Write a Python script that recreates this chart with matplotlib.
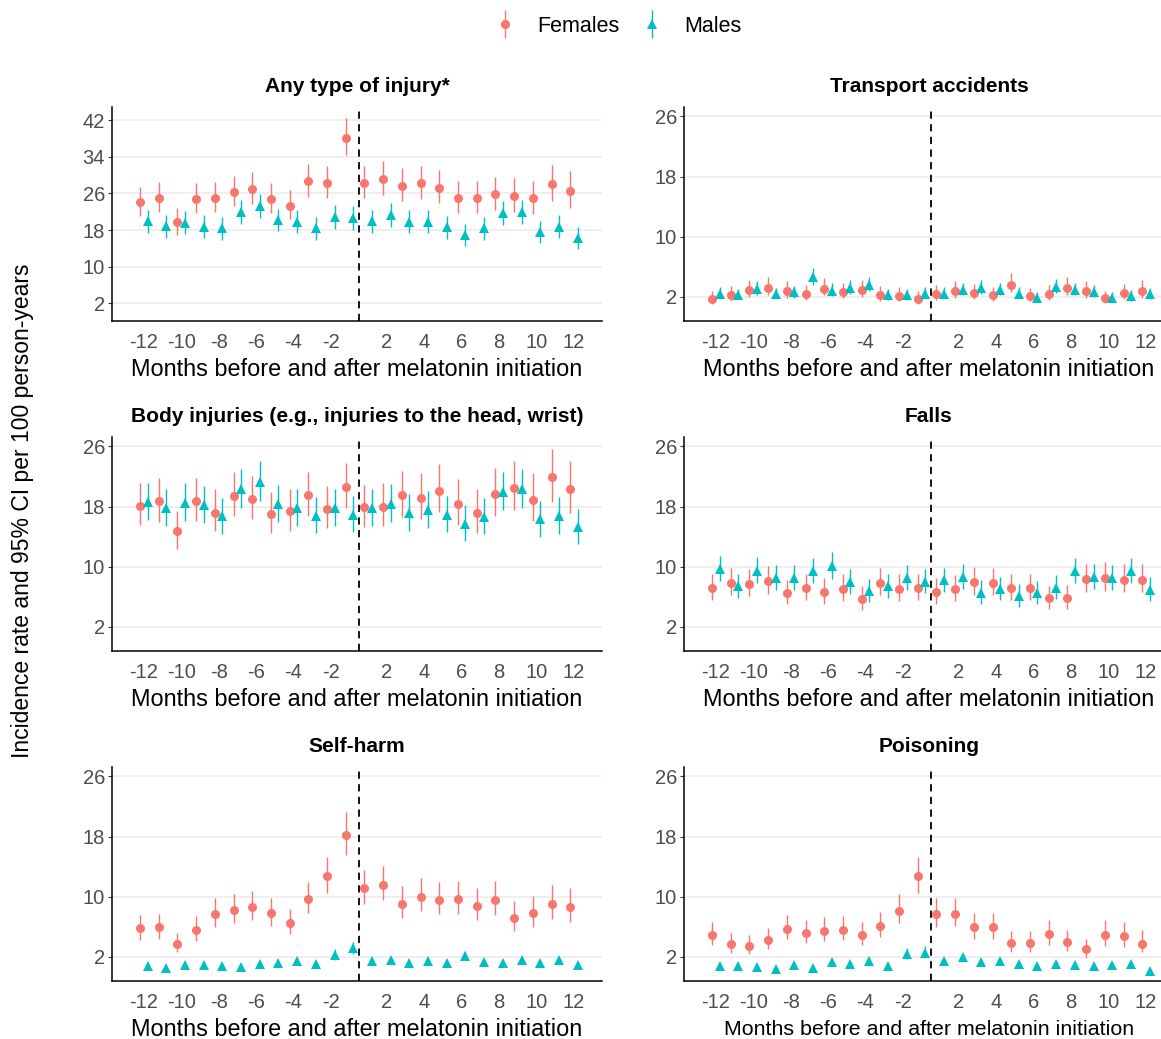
import numpy as np
import matplotlib
matplotlib.use("Agg")
import matplotlib.pyplot as plt
from matplotlib.container import ErrorbarContainer
from matplotlib.legend_handler import HandlerErrorbar

plt.rcParams["font.family"] = ["Liberation Sans", "DejaVu Sans"]

# =========================
# data
# =========================
MONTHS = [-12, -11, -10, -9, -8, -7, -6, -5, -4, -3, -2, -1,
          1, 2, 3, 4, 5, 6, 7, 8, 9, 10, 11, 12]
TICK_MONTHS = [-12, -10, -8, -6, -4, -2, 2, 4, 6, 8, 10, 12]

TITLES = ["Any type of injury*", "Transport accidents",
          "Body injuries (e.g., injuries to the head, wrist)", "Falls",
          "Self-harm", "Poisoning"]

# any type of injury
any_f = [24.1, 25.0, 19.7, 24.7, 25.0, 26.3, 26.9, 24.7, 23.3, 28.7, 28.2, 38.2,
         28.2, 29.1, 27.7, 28.2, 27.2, 25.0, 25.0, 25.8, 25.5, 25.0, 28.0, 26.5]
any_f_lo = [21.0, 21.9, 16.8, 21.7, 22.0, 23.3, 23.7, 21.7, 20.3, 25.3, 24.9, 34.3,
            24.9, 25.7, 24.4, 24.7, 23.9, 21.7, 21.7, 22.3, 22.0, 21.5, 24.3, 22.8]
any_f_hi = [27.5, 28.5, 22.8, 28.2, 28.5, 29.9, 30.6, 28.2, 26.8, 32.5, 31.9, 42.6,
            31.9, 33.0, 31.5, 32.0, 31.2, 28.7, 28.8, 29.7, 29.3, 28.8, 32.3, 30.8]
any_m = [19.9, 18.8, 19.6, 18.7, 18.4, 22.0, 23.3, 20.2, 19.8, 18.4, 20.8, 20.6,
         19.9, 21.2, 19.8, 19.8, 18.6, 16.9, 18.4, 21.7, 21.9, 17.6, 18.7, 16.3]
any_m_lo = [17.4, 16.3, 17.1, 16.2, 15.9, 19.4, 20.7, 17.7, 17.3, 15.9, 18.2, 18.0,
            17.4, 18.6, 17.3, 17.3, 16.1, 14.5, 15.9, 19.1, 19.3, 15.2, 16.2, 13.9]
any_m_hi = [22.4, 21.3, 22.1, 21.2, 20.9, 24.6, 25.9, 22.7, 22.3, 20.9, 23.4, 23.2,
            22.4, 23.8, 22.3, 22.3, 21.1, 19.3, 20.9, 24.3, 24.5, 20.0, 21.2, 18.7]

# transport accidents
tra_f = [1.7, 2.3, 2.9, 3.2, 2.8, 2.4, 3.1, 2.6, 2.9, 2.3, 2.1, 1.7,
         2.4, 2.8, 2.5, 2.2, 3.65, 2.1, 2.45, 3.2, 2.8, 1.8, 2.5, 2.8]
tra_f_lo = [1.1, 1.5, 2.0, 2.3, 1.9, 1.6, 2.2, 1.8, 2.0, 1.5, 1.4, 1.1,
            1.6, 1.9, 1.7, 1.4, 2.6, 1.4, 1.6, 2.3, 1.9, 1.2, 1.7, 1.9]
tra_f_hi = [2.8, 3.4, 4.3, 4.6, 4.1, 3.6, 4.5, 3.8, 4.3, 3.5, 3.3, 2.8,
            3.6, 4.1, 3.7, 3.3, 5.2, 3.2, 3.6, 4.6, 4.1, 2.8, 3.7, 4.2]
tra_m = [2.45, 2.3, 3.1, 2.4, 2.6, 4.6, 2.85, 3.2, 3.65, 2.2, 2.2, 2.45,
         2.45, 2.9, 3.25, 2.95, 2.45, 1.9, 3.35, 2.9, 2.7, 1.9, 2.1, 2.35]
tra_m_lo = [1.8, 1.7, 2.3, 1.8, 1.9, 3.6, 2.1, 2.4, 2.8, 1.6, 1.6, 1.8,
            1.8, 2.2, 2.4, 2.2, 1.8, 1.3, 2.5, 2.2, 2.0, 1.3, 1.5, 1.7]
tra_m_hi = [3.3, 3.1, 4.1, 3.2, 3.4, 5.8, 3.8, 4.2, 4.7, 3.0, 3.0, 3.3,
            3.3, 3.8, 4.2, 3.9, 3.3, 2.6, 4.4, 3.8, 3.6, 2.6, 2.9, 3.2]

# body injuries
bod_f = [18.1, 18.7, 14.7, 18.7, 17.2, 19.4, 19.0, 17.0, 17.4, 19.5, 17.7, 20.6,
         17.9, 18.0, 19.5, 19.2, 20.1, 18.4, 17.1, 19.7, 20.5, 18.9, 21.9, 20.3]
bod_f_lo = [15.5, 15.9, 12.3, 16.1, 14.7, 16.7, 16.3, 14.5, 14.8, 16.7, 15.2, 17.8,
            15.3, 15.4, 16.6, 16.4, 17.3, 15.6, 14.5, 16.75, 17.5, 16.1, 18.6, 17.2]
bod_f_hi = [21.1, 21.75, 17.4, 21.8, 20.3, 22.6, 22.1, 20.0, 20.4, 22.6, 20.7, 23.8,
            20.9, 21.2, 22.7, 22.5, 23.6, 21.6, 20.3, 23.1, 24.1, 22.4, 25.7, 24.0]
bod_m = [18.6, 17.8, 18.5, 18.2, 16.7, 20.3, 21.3, 18.3, 17.8, 16.8, 17.8, 16.9,
         17.8, 18.4, 17.1, 17.5, 16.9, 15.7, 16.6, 20.0, 20.3, 16.3, 16.75, 15.3]
bod_m_lo = [16.2, 15.4, 16.1, 15.8, 14.4, 17.8, 18.8, 15.9, 15.4, 14.5, 15.4, 14.6,
            15.4, 16.0, 14.8, 15.1, 14.6, 13.4, 14.3, 17.5, 17.8, 14.0, 14.4, 13.0]
bod_m_hi = [21.2, 20.4, 21.1, 20.8, 19.2, 23.0, 24.0, 20.9, 20.4, 19.3, 20.4, 19.4,
            20.4, 21.0, 19.7, 20.1, 19.4, 18.2, 19.1, 22.6, 23.0, 18.8, 19.3, 17.7]

# falls
fal_f = [7.2, 7.8, 7.7, 8.1, 6.5, 7.2, 6.6, 7.1, 5.7, 7.9, 7.1, 7.15,
         6.6, 7.0, 7.95, 7.8, 7.2, 7.2, 5.8, 5.85, 8.35, 8.5, 8.3, 8.3]
fal_f_lo = [5.6, 6.2, 6.1, 6.4, 5.0, 5.6, 5.1, 5.5, 4.3, 6.2, 5.5, 5.6,
            5.1, 5.4, 6.3, 6.2, 5.6, 5.6, 4.4, 4.4, 6.6, 6.8, 6.6, 6.6]
fal_f_hi = [9.1, 9.8, 9.7, 10.1, 8.3, 9.1, 8.5, 9.0, 7.4, 9.9, 9.0, 9.1,
            8.5, 8.9, 10.0, 9.8, 9.1, 9.1, 7.5, 7.6, 10.4, 10.6, 10.3, 10.3]
fal_m = [9.7, 7.4, 9.5, 8.5, 8.5, 9.4, 10.1, 7.95, 6.75, 7.4, 8.45, 8.0,
         8.2, 8.65, 6.55, 7.05, 6.1, 6.45, 7.2, 9.4, 8.65, 8.45, 9.4, 6.9]
fal_m_lo = [8.1, 5.9, 7.9, 6.9, 6.9, 7.8, 8.4, 6.4, 5.3, 5.9, 6.9, 6.5,
            6.6, 7.1, 5.1, 5.6, 4.7, 5.0, 5.7, 7.8, 7.1, 6.9, 7.8, 5.4]
fal_m_hi = [11.4, 9.1, 11.3, 10.2, 10.2, 11.2, 11.9, 9.7, 8.4, 9.1, 10.2, 9.7,
            9.9, 10.4, 8.2, 8.7, 7.7, 8.1, 8.9, 11.2, 10.4, 10.2, 11.2, 8.6]

# self-harm
sel_f = [5.8, 5.95, 3.7, 5.6, 7.7, 8.3, 8.6, 7.8, 6.5, 9.7, 12.7, 18.2,
         11.1, 11.6, 9.0, 10.0, 9.6, 9.7, 8.8, 9.6, 7.15, 7.8, 9.0, 8.7]
sel_f_lo = [4.3, 4.4, 2.7, 4.1, 6.0, 6.5, 6.9, 6.1, 5.0, 7.8, 10.5, 15.6,
            9.0, 9.55, 7.2, 8.1, 7.7, 7.7, 6.9, 7.6, 5.5, 6.0, 7.0, 6.7]
sel_f_hi = [7.6, 7.7, 5.2, 7.4, 9.8, 10.4, 10.8, 9.8, 8.35, 11.9, 15.3, 21.3,
            13.5, 14.1, 11.4, 12.45, 12.0, 12.1, 11.2, 12.1, 9.4, 10.1, 11.5, 11.2]
sel_m = [0.78, 0.56, 0.96, 0.9, 0.73, 0.65, 1.1, 1.2, 1.45, 1.0, 2.25, 3.15,
         1.5, 1.55, 1.25, 1.45, 1.2, 2.1, 1.3, 1.25, 1.55, 1.25, 1.6, 0.9]
sel_m_lo = [0.5, 0.35, 0.65, 0.6, 0.45, 0.4, 0.8, 0.9, 1.1, 0.7, 1.6, 2.35,
            1.15, 1.2, 0.9, 1.1, 0.9, 1.6, 1.0, 0.95, 1.2, 0.95, 1.25, 0.6]
sel_m_hi = [1.15, 0.9, 1.35, 1.25, 1.05, 1.0, 1.5, 1.6, 1.85, 1.4, 3.0, 4.0,
            1.95, 2.0, 1.65, 1.85, 1.6, 2.75, 1.7, 1.65, 2.0, 1.65, 2.05, 1.25]

# poisoning
poi_f = [4.9, 3.7, 3.5, 4.3, 5.7, 5.15, 5.5, 5.6, 4.9, 6.1, 8.1, 12.75,
         7.7, 7.75, 5.95, 6.0, 3.8, 3.8, 5.0, 3.95, 3.0, 4.9, 4.8, 3.7]
poi_f_lo = [3.6, 2.5, 2.35, 3.1, 4.35, 3.9, 4.1, 4.2, 3.6, 4.7, 6.45, 10.5,
            6.0, 6.1, 4.4, 4.4, 2.7, 2.6, 3.55, 2.75, 1.9, 3.5, 3.3, 2.6]
poi_f_hi = [6.6, 5.2, 4.9, 5.9, 7.6, 6.9, 7.3, 7.45, 6.7, 8.0, 10.3, 15.3,
            9.8, 9.9, 7.8, 7.9, 5.4, 5.4, 6.85, 5.6, 4.4, 6.85, 6.7, 5.6]
poi_m = [0.76, 0.76, 0.65, 0.4, 0.9, 0.5, 1.3, 1.0, 1.4, 0.8, 2.4, 2.55,
         1.5, 1.95, 1.35, 1.5, 1.0, 0.75, 1.05, 0.95, 0.75, 0.9, 1.1, 0.15]
poi_m_lo = [0.5, 0.5, 0.4, 0.2, 0.6, 0.3, 0.95, 0.7, 1.05, 0.55, 1.7, 1.8,
            1.15, 1.5, 1.0, 1.15, 0.7, 0.5, 0.75, 0.65, 0.5, 0.6, 0.8, 0.05]
poi_m_hi = [1.1, 1.1, 0.95, 0.65, 1.25, 0.8, 1.7, 1.35, 1.8, 1.15, 3.15, 3.45,
            1.9, 2.45, 1.75, 1.9, 1.35, 1.05, 1.4, 1.3, 1.05, 1.25, 1.45, 0.35]

PANELS = [
    (any_f, any_f_lo, any_f_hi, any_m, any_m_lo, any_m_hi),
    (tra_f, tra_f_lo, tra_f_hi, tra_m, tra_m_lo, tra_m_hi),
    (bod_f, bod_f_lo, bod_f_hi, bod_m, bod_m_lo, bod_m_hi),
    (fal_f, fal_f_lo, fal_f_hi, fal_m, fal_m_lo, fal_m_hi),
    (sel_f, sel_f_lo, sel_f_hi, sel_m, sel_m_lo, sel_m_hi),
    (poi_f, poi_f_lo, poi_f_hi, poi_m, poi_m_lo, poi_m_hi),
]

# =========================
# style
# =========================
C_F = "#F8766D"
C_M = "#00BFC4"
GREY_TXT = "#4D4D4D"
W, H = 1161, 1039
DODGE = 0.2


def month_pos(m):
    # months are equally spaced categories, month 0 missing -> gap closed
    m = np.asarray(m, dtype=float)
    return np.where(m < 0, m + 0.5, m - 0.5)


def px_axes(fig, left, top, right, bottom):
    return fig.add_axes([left / W, 1 - bottom / H, (right - left) / W, (bottom - top) / H])


fig = plt.figure(figsize=(W / 100, H / 100), dpi=100)

# right column was cut off at the image edge in the original
cols = [(112, 602), (684, 1174)]
rows = [(107, 321), (437, 651), (767, 981)]

x = month_pos(MONTHS)
handles = None
for i, (f, flo, fhi, m, mlo, mhi) in enumerate(PANELS):
    r, c = divmod(i, 2)
    ax = px_axes(fig, cols[c][0], rows[r][0], cols[c][1], rows[r][1])

    f, flo, fhi = np.array(f), np.array(flo), np.array(fhi)
    m, mlo, mhi = np.array(m), np.array(mlo), np.array(mhi)

    hf = ax.errorbar(x - DODGE, f, yerr=[f - flo, fhi - f], fmt="o", color=C_F,
                     ms=6.5, elinewidth=1.0, capsize=0, mew=0, zorder=3, label="Females")
    hm = ax.errorbar(x + DODGE, m, yerr=[m - mlo, mhi - m], fmt="^", color=C_M,
                     ms=7.5, elinewidth=1.0, capsize=0, mew=0, zorder=3, label="Males")
    handles = [hf, hm]

    ax.axvline(0, color="black", lw=1.3, ls=(0, (4, 3)), zorder=4)

    if i == 0:
        ax.set_ylim(-1.9, 44.9)
        ax.set_yticks([2, 10, 18, 26, 34, 42])
    else:
        ax.set_ylim(-1.2, 27.25)
        ax.set_yticks([2, 10, 18, 26])
    ax.set_xlim(-13.2, 13.0)
    ax.set_xticks(month_pos(TICK_MONTHS))
    ax.set_xticklabels([str(t) for t in TICK_MONTHS])

    ax.grid(axis="y", color="#EBEBEB", lw=1.1, zorder=0)
    ax.set_axisbelow(True)
    for s in ["top", "right"]:
        ax.spines[s].set_visible(False)
    for s in ["left", "bottom"]:
        ax.spines[s].set_linewidth(1.1)
        ax.spines[s].set_color("black")
    ax.tick_params(axis="y", length=3, width=0.8, color="#333333",
                   labelsize=14.5, labelcolor=GREY_TXT, pad=2)
    ax.tick_params(axis="x", length=0, labelsize=14.5, labelcolor=GREY_TXT, pad=8.5)

    ax.set_title(TITLES[i], fontsize=15, fontweight="bold", pad=11)
    ax.set_xlabel("Months before and after melatonin initiation",
                  fontsize=15.4 if i == 5 else 16.9, labelpad=6 if i == 5 else 4.5)

fig.text(0.019, 0.508, "Incidence rate and 95% CI per 100 person-years",
         rotation=90, va="center", ha="center", fontsize=16.5)

fig.legend(handles, ["Females", "Males"], loc="center", bbox_to_anchor=(0.532, 1 - 26 / H),
           ncol=2, frameon=False, fontsize=15.5, handlelength=1.0, columnspacing=1.0,
           handletextpad=1.0,
           handler_map={ErrorbarContainer: HandlerErrorbar(yerr_size=0.65)})

fig.savefig("out.png", dpi=100)
